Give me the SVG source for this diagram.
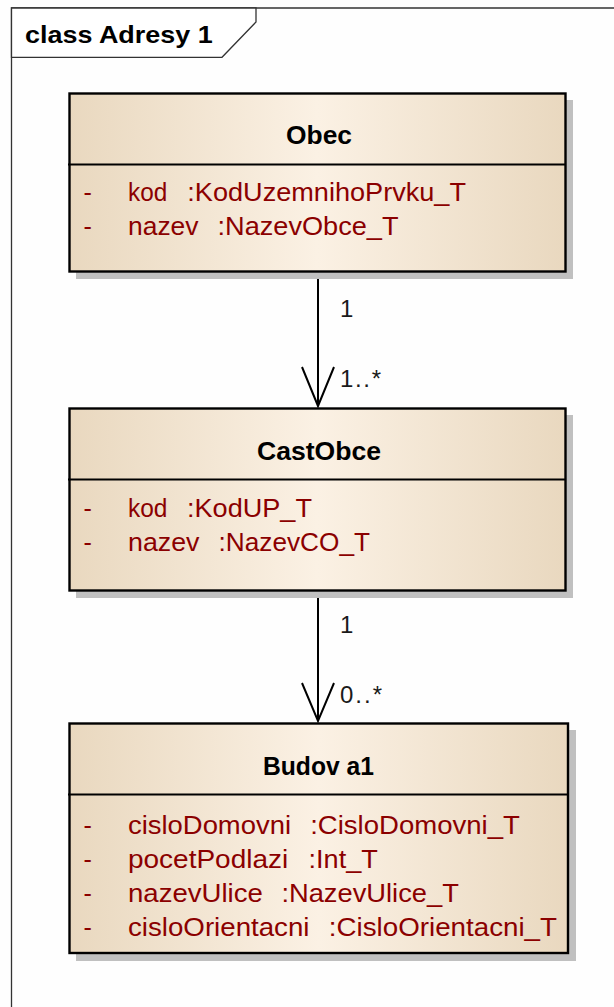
<svg xmlns="http://www.w3.org/2000/svg" width="614" height="1007" viewBox="0 0 614 1007">
<defs>
<linearGradient id="fillG" x1="0" y1="0" x2="1" y2="0">
<stop offset="0" stop-color="#e9d8bf"/>
<stop offset="0.5" stop-color="#fbf1e4"/>
<stop offset="1" stop-color="#e9d8bf"/>
</linearGradient>
<style>
.box{fill:url(#fillG);stroke:#000;stroke-width:2.4}
.shadow{fill:#c0c0c0}
.sep{stroke:#000;stroke-width:2}
.title{font-family:"Liberation Sans",Arial,sans-serif;font-weight:bold;font-size:25px;fill:#000;text-anchor:middle}
.attr{font-family:"Liberation Sans",Arial,sans-serif;font-size:25px;fill:#8b0000}
.lbl{font-family:"Liberation Sans",Arial,sans-serif;font-size:24px;fill:#1a1a1a}
.conn{stroke:#000;stroke-width:2;fill:none}
.frame{stroke:#333;stroke-width:1.3;fill:none}
</style>
</defs>
<rect width="614" height="1007" fill="#fefefe"/>
<g id="frame">
<polyline class="frame" points="11.5,1007 11.5,8 614,8"/>
<path d="M11.5,8 L256,8 L256,22 L222,57.3 L11.5,57.3 Z" fill="#ffffff" stroke="#333" stroke-width="1.3"/>
<text x="25" y="43.3" textLength="187.7" lengthAdjust="spacingAndGlyphs" style="font-family:'Liberation Sans',Arial,sans-serif;font-weight:bold;font-size:24px;fill:#000">class Adresy 1</text>
</g>
<g id="connectors">
<line class="conn" x1="318" y1="273" x2="318" y2="406"/>
<polyline class="conn" points="302,367 318,406 334,367"/>
<text class="lbl" x="340" y="317">1</text>
<text class="lbl" x="340" y="387" textLength="41" lengthAdjust="spacing">1..*</text>
<line class="conn" x1="318" y1="591" x2="318" y2="721"/>
<polyline class="conn" points="302,683 318,721 334,683"/>
<text class="lbl" x="340" y="633">1</text>
<text class="lbl" x="340" y="703" textLength="42" lengthAdjust="spacing">0..*</text>
</g>
<g id="Obec">
<rect class="shadow" x="76" y="100" width="497" height="179"/>
<rect class="box" x="69.5" y="93.5" width="496" height="178"/>
<line class="sep" x1="68" y1="164.5" x2="566" y2="164.5"/>
<text class="title" x="319" y="144" textLength="66" lengthAdjust="spacingAndGlyphs">Obec</text>
<text class="attr" x="83.5" y="201">-</text>
<text class="attr" x="128" y="201" textLength="39.3" lengthAdjust="spacingAndGlyphs">kod</text>
<text class="attr" x="187.3" y="201" textLength="278.7" lengthAdjust="spacingAndGlyphs">:KodUzemnihoPrvku_T</text>
<text class="attr" x="83.5" y="235">-</text>
<text class="attr" x="128" y="235" textLength="70.5" lengthAdjust="spacingAndGlyphs">nazev</text>
<text class="attr" x="217.5" y="235" textLength="181" lengthAdjust="spacingAndGlyphs">:NazevObce_T</text>
</g>
<g id="CastObce">
<rect class="shadow" x="76" y="415" width="497" height="183"/>
<rect class="box" x="69.5" y="408.5" width="496" height="182"/>
<line class="sep" x1="68" y1="479.5" x2="566" y2="479.5"/>
<text class="title" x="319" y="459.5" textLength="124" lengthAdjust="spacingAndGlyphs">CastObce</text>
<text class="attr" x="83.5" y="517">-</text>
<text class="attr" x="128" y="517" textLength="39.5" lengthAdjust="spacingAndGlyphs">kod</text>
<text class="attr" x="187" y="517" textLength="125" lengthAdjust="spacingAndGlyphs">:KodUP_T</text>
<text class="attr" x="83.5" y="551">-</text>
<text class="attr" x="128" y="551" textLength="71.5" lengthAdjust="spacingAndGlyphs">nazev</text>
<text class="attr" x="218.5" y="551" textLength="151.5" lengthAdjust="spacingAndGlyphs">:NazevCO_T</text>
</g>
<g id="Budova1">
<rect class="shadow" x="76" y="730" width="500" height="231"/>
<rect class="box" x="69.5" y="723.5" width="498.5" height="229.5"/>
<line class="sep" x1="68" y1="794.5" x2="568.5" y2="794.5"/>
<text class="title" x="318.5" y="774.5" textLength="111" lengthAdjust="spacingAndGlyphs">Budov a1</text>
<text class="attr" x="83.5" y="834">-</text>
<text class="attr" x="128" y="834" textLength="163" lengthAdjust="spacingAndGlyphs">cisloDomovni</text>
<text class="attr" x="310.2" y="834" textLength="209.6" lengthAdjust="spacingAndGlyphs">:CisloDomovni_T</text>
<text class="attr" x="83.5" y="868">-</text>
<text class="attr" x="128" y="868" textLength="160.2" lengthAdjust="spacingAndGlyphs">pocetPodlazi</text>
<text class="attr" x="308.5" y="868" textLength="69.3" lengthAdjust="spacingAndGlyphs">:Int_T</text>
<text class="attr" x="83.5" y="902">-</text>
<text class="attr" x="128" y="902" textLength="134.8" lengthAdjust="spacingAndGlyphs">nazevUlice</text>
<text class="attr" x="281.4" y="902" textLength="177.5" lengthAdjust="spacingAndGlyphs">:NazevUlice_T</text>
<text class="attr" x="83.5" y="936">-</text>
<text class="attr" x="128" y="936" textLength="181.5" lengthAdjust="spacingAndGlyphs">cisloOrientacni</text>
<text class="attr" x="328.8" y="936" textLength="228.2" lengthAdjust="spacingAndGlyphs">:CisloOrientacni_T</text>
</g>
</svg>
